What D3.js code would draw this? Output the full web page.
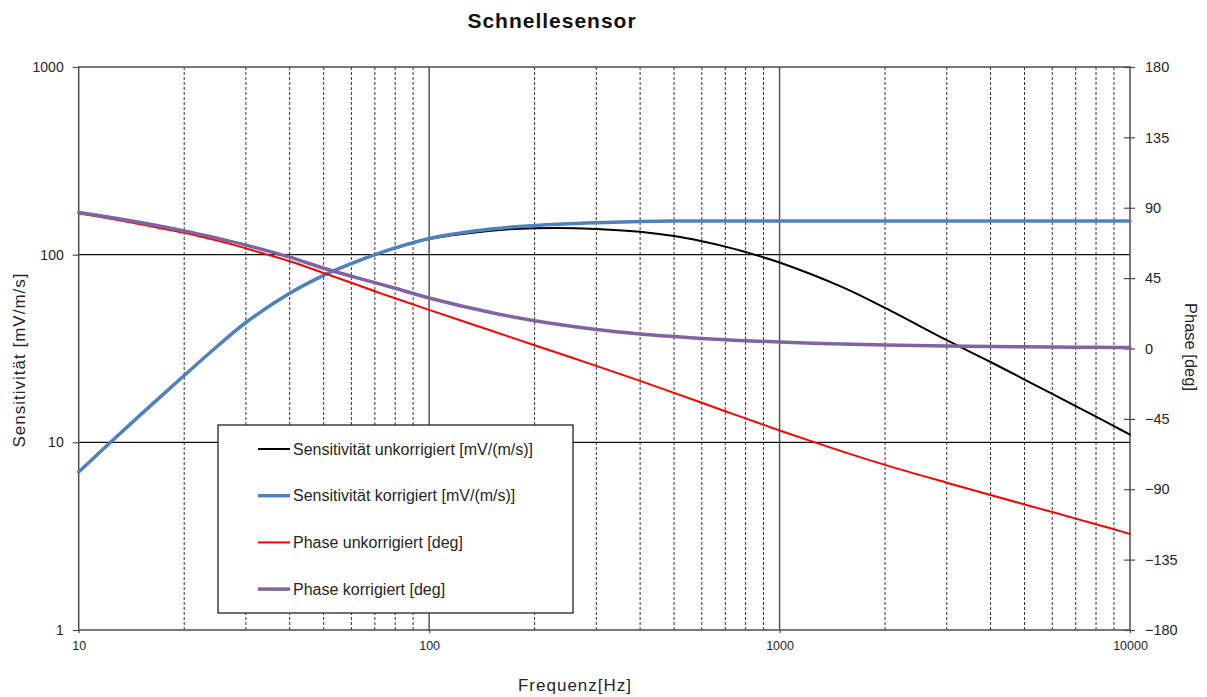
<!DOCTYPE html>
<html>
<head>
<meta charset="utf-8">
<script src="https://cdn.jsdelivr.net/npm/d3@7"></script>
<style>
  html, body { margin: 0; padding: 0; background: #fff; }
  svg { display: block; font-family: Arial, "Liberation Sans", sans-serif; }
</style>
</head>
<body>
<svg id="chart" width="1207" height="697"></svg>
<script>
// Frequency grid [Hz]
const freqs = [10, 12, 15, 20, 25, 30, 40, 50, 60, 70, 80, 100, 150, 200, 300, 400, 500,
               600, 700, 800, 1000, 1500, 2000, 3000, 4000, 5000, 6000, 7000, 8000, 9000, 10000];

// Sensitivity [mV/(m/s)]
const sensUncorrected = [6.95, 9.55, 14, 22.7, 32.8, 43.5, 62.2, 77.4, 89.3, 99.6, 108, 121, 134.3, 138.2, 137.2, 132.4, 125.6,
                         117.9, 110.4, 103.3, 90.8, 67.5, 52, 35, 26.8, 21.6, 18.1, 15.6, 13.7, 12.2, 11.0];
const sensCorrected   = [6.95, 9.55, 14, 22.7, 32.8, 43.5, 62.3, 77.6, 89.6, 100, 108.6, 122, 137, 143, 147.8, 150, 151,
                         151, 151, 151, 151, 151, 151, 151, 151, 151, 151, 151, 151, 151, 151];

// Phase [deg]
const phaseUncorrected = [86.3, 83.5, 79.4, 74, 68.8, 64, 55.8, 48.3, 42, 36.6, 32.1, 24.7, 11.5, 2.1, -11.1, -20.7, -28.4,
                          -34.7, -40.1, -44.7, -52.4, -65.6, -74.4, -85.8, -93.7, -99.7, -104.6, -108.8, -112.4, -115.6, -118.6];
const phaseCorrected   = [87, 84.3, 80.6, 75.2, 70.4, 66.1, 58.4, 51.3, 46.2, 42.1, 38.5, 32.3, 23, 17.8, 12.2, 9.3, 7.6,
                          6.4, 5.6, 5.0, 4.1, 2.9, 2.3, 1.6, 1.3, 1.1, 0.95, 0.85, 0.75, 0.7, 0.65];

// Axis ticks
const xTicks = [10, 100, 1000, 10000];
const yLeftTicks = [1, 10, 100, 1000];
const yRightTicks = [-180, -135, -90, -45, 0, 45, 90, 135, 180];

const seriesNames = [
  "Sensitivität unkorrigiert [mV/(m/s)]",
  "Sensitivität korrigiert [mV/(m/s)]",
  "Phase unkorrigiert [deg]",
  "Phase korrigiert [deg]"
];

const svg = d3.select("#chart");
const plot = { left: 78.7, right: 1130, top: 67, bottom: 630 };

const x = d3.scaleLog().domain([10, 10000]).range([plot.left, plot.right]);
const yL = d3.scaleLog().domain([1, 1000]).range([plot.bottom, plot.top]);
const yR = d3.scaleLinear().domain([-180, 180]).range([plot.bottom, plot.top]);

const textColor = "#262626";

// Title
svg.append("text")
  .attr("x", 552).attr("y", 28)
  .attr("text-anchor", "middle")
  .attr("font-size", 21).attr("font-weight", "bold")
  .attr("letter-spacing", 1)
  .attr("fill", "#111")
  .text("Schnellesensor");

// Vertical grid: dashed at intermediate frequencies, solid at decades
const grid = svg.append("g");
const allX = x.ticks();
grid.selectAll("line.vminor")
  .data(allX.filter(f => !xTicks.includes(f)))
  .join("line")
  .attr("x1", d => x(d)).attr("x2", d => x(d))
  .attr("y1", plot.top).attr("y2", plot.bottom)
  .attr("stroke", "#333").attr("stroke-width", 1)
  .attr("stroke-dasharray", "3,2");
grid.selectAll("line.vmajor")
  .data(xTicks.slice(1, -1))
  .join("line")
  .attr("x1", d => x(d)).attr("x2", d => x(d))
  .attr("y1", plot.top).attr("y2", plot.bottom)
  .attr("stroke", "#555").attr("stroke-width", 1.5);
// Horizontal grid at decades of sensitivity
grid.selectAll("line.h")
  .data(yLeftTicks.slice(1, -1))
  .join("line")
  .attr("x1", plot.left).attr("x2", plot.right)
  .attr("y1", d => yL(d)).attr("y2", d => yL(d))
  .attr("stroke", "#111").attr("stroke-width", 1.2);

// Plot frame
svg.append("rect")
  .attr("x", plot.left).attr("y", plot.top)
  .attr("width", plot.right - plot.left).attr("height", plot.bottom - plot.top)
  .attr("fill", "none").attr("stroke", "#4d4d4d").attr("stroke-width", 1.5);

// Axes
const styleAxis = g => {
  g.select(".domain").remove();
  g.selectAll(".tick line").attr("stroke", "#4d4d4d").attr("stroke-width", 1.2);
  g.selectAll(".tick text").attr("fill", textColor).attr("font-family", "Arial, 'Liberation Sans', sans-serif");
};

svg.append("g")
  .attr("transform", `translate(${plot.left},0)`)
  .call(d3.axisLeft(yL).tickValues(yLeftTicks).tickFormat(d3.format("d")).tickSize(6).tickPadding(9))
  .call(styleAxis)
  .call(g => g.selectAll(".tick text").attr("font-size", 14));

svg.append("g")
  .attr("transform", `translate(0,${plot.bottom})`)
  .call(d3.axisBottom(x).tickValues(xTicks).tickFormat(d3.format("d")).tickSize(3).tickPadding(8))
  .call(styleAxis)
  .call(g => g.selectAll(".tick text").attr("font-size", 12.5));

svg.append("g")
  .attr("transform", `translate(${plot.right},0)`)
  .call(d3.axisRight(yR).tickValues(yRightTicks).tickFormat(d3.format("d")).tickSize(5).tickPadding(10))
  .call(styleAxis)
  .call(g => g.selectAll(".tick line").attr("x1", -6))
  .call(g => g.selectAll(".tick text").attr("font-size", 14.5));

// Axis titles
svg.append("text")
  .attr("transform", "translate(25,360) rotate(-90)")
  .attr("text-anchor", "middle")
  .attr("font-size", 17).attr("letter-spacing", 1)
  .attr("fill", textColor)
  .text("Sensitivität [mV/m/s]");

svg.append("text")
  .attr("transform", "translate(1185,347) rotate(90)")
  .attr("text-anchor", "middle")
  .attr("font-size", 16.5)
  .attr("fill", textColor)
  .text("Phase [deg]");

svg.append("text")
  .attr("x", 575).attr("y", 691)
  .attr("text-anchor", "middle")
  .attr("font-size", 17).attr("letter-spacing", 1)
  .attr("fill", textColor)
  .text("Frequenz[Hz]");

// Curves
const lineL = d3.line().x(d => x(d[0])).y(d => yL(d[1])).curve(d3.curveCatmullRom.alpha(0.5));
const lineR = d3.line().x(d => x(d[0])).y(d => yR(d[1])).curve(d3.curveCatmullRom.alpha(0.5));

const series = [
  { name: seriesNames[0], values: sensUncorrected, line: lineL, color: "#000000", width: 2 },
  { name: seriesNames[1], values: sensCorrected, line: lineL, color: "#4f81bd", width: 3.5 },
  { name: seriesNames[2], values: phaseUncorrected, line: lineR, color: "#ff0000", width: 2 },
  { name: seriesNames[3], values: phaseCorrected, line: lineR, color: "#8064a2", width: 3.5 }
];

const curves = svg.append("g");
series.forEach(s => {
  curves.append("path")
    .datum(freqs.map((f, i) => [f, s.values[i]]))
    .attr("d", s.line)
    .attr("fill", "none")
    .attr("stroke", s.color)
    .attr("stroke-width", s.width)
    .attr("stroke-linejoin", "round")
    .attr("stroke-linecap", "round");
});

// Legend
const legend = svg.append("g").attr("transform", "translate(218,425)");
legend.append("rect")
  .attr("width", 355).attr("height", 188)
  .attr("fill", "#fff").attr("stroke", "#111").attr("stroke-width", 1.2);
const rows = legend.selectAll("g.row")
  .data(series)
  .join("g")
  .attr("transform", (d, i) => `translate(0,${24 + i * 46.7})`);
rows.append("line")
  .attr("x1", 40).attr("x2", 72)
  .attr("stroke", d => d.color)
  .attr("stroke-width", d => d.width);
rows.append("text")
  .attr("x", 75).attr("dy", "0.35em")
  .attr("font-size", 16)
  .attr("fill", textColor)
  .text(d => d.name);
</script>
</body>
</html>
